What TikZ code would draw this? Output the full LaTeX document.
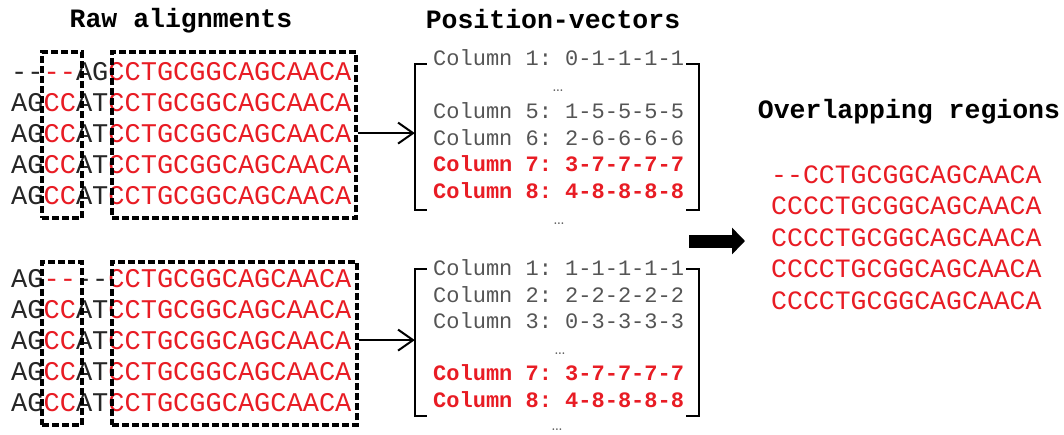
\documentclass[tikz,border=0pt]{standalone}
\usepackage{fontspec}
\setmonofont{Liberation Mono}
\usetikzlibrary{arrows.meta}
\definecolor{seqred}{RGB}{232,28,36}
\definecolor{vecgray}{RGB}{85,85,85}
\newcommand{\rd}[1]{\textcolor{seqred}{#1}}

\begin{document}
\begin{tikzpicture}
        [x=1pt, y=-1pt,
        seq/.style={font=\fontsize{27}{27}\selectfont\ttfamily, inner sep=0, anchor=base west, text=black!85},
        ovl/.style={font=\fontsize{26.5}{26.5}\selectfont\ttfamily, inner sep=0, anchor=base west, text=seqred},
        vec/.style={font=\fontsize{22}{22}\selectfont\ttfamily, inner sep=0, anchor=base west, text=vecgray},
        vecHit/.style={font=\fontsize{22}{22}\selectfont\ttfamily\bfseries, inner sep=0, anchor=base west, text=seqred},
        dots/.style={font=\fontsize{21}{21}\selectfont, inner sep=0, anchor=base, text=vecgray},
        title/.style={font=\fontsize{26.5}{26.5}\selectfont\ttfamily\bfseries, inner sep=0, anchor=base},
        colbox/.style={draw, line width=3.2pt, dash pattern=on 7pt off 3pt, inner sep=0},
        vecbox/.style={inner sep=0},
        brk/.style={line width=2.4pt},
        link/.style={line width=2pt, -{Straight Barb[length=15pt,width=21pt]}},
        merge/.style={line width=13pt, -{Triangle[length=13pt,width=26pt]}}]
        \useasboundingbox (0,0) rectangle (1064,434);

        % headings
        \node[title] (tRaw) at (181,27) {Raw alignments};
        \node[title] (tVec) at (553,28) {Position-vectors};
        \node[title] (tOvl) at (909,118) {Overlapping regions};

        % first alignment
        \node[seq] (a1r1) at (11,80) {--\rd{--}AG\rd{CCTGCGGCAGCAACA}};
        \node[seq] (a1r2) at (11,111) {AG\rd{CC}AT\rd{CCTGCGGCAGCAACA}};
        \node[seq] (a1r3) at (11,142) {AG\rd{CC}AT\rd{CCTGCGGCAGCAACA}};
        \node[seq] (a1r4) at (11,173) {AG\rd{CC}AT\rd{CCTGCGGCAGCAACA}};
        \node[seq] (a1r5) at (11,204) {AG\rd{CC}AT\rd{CCTGCGGCAGCAACA}};
        \node[colbox, minimum width=40pt, minimum height=166pt] (small1) at (62,135) {};
        \node[colbox, minimum width=244pt, minimum height=166pt] (big1) at (234,135) {};

        % second alignment
        \node[seq] (a2r1) at (11,287) {AG\rd{--}--\rd{CCTGCGGCAGCAACA}};
        \node[seq] (a2r2) at (11,318) {AG\rd{CC}AT\rd{CCTGCGGCAGCAACA}};
        \node[seq] (a2r3) at (11,349) {AG\rd{CC}AT\rd{CCTGCGGCAGCAACA}};
        \node[seq] (a2r4) at (11,380) {AG\rd{CC}AT\rd{CCTGCGGCAGCAACA}};
        \node[seq] (a2r5) at (11,411) {AG\rd{CC}AT\rd{CCTGCGGCAGCAACA}};
        \node[colbox, minimum width=40pt, minimum height=163pt] (small2) at (62,343.5) {};
        \node[colbox, minimum width=245pt, minimum height=163pt] (big2) at (234.5,343.5) {};

        % position vectors, first block
        \node[vecbox, minimum width=284pt, minimum height=146pt] (vec1) at (557,137) {};
        \node[vec] (v1c1) at (433,65) {Column 1: 0-1-1-1-1};
        \node[dots] (v1d1) at (558,91) {\ldots};
        \node[vec] (v1c5) at (433,118) {Column 5: 1-5-5-5-5};
        \node[vec] (v1c6) at (433,145) {Column 6: 2-6-6-6-6};
        \node[vecHit] (v1c7) at (433,171) {Column 7: 3-7-7-7-7};
        \node[vecHit] (v1c8) at (433,198) {Column 8: 4-8-8-8-8};
        \node[dots] (v1d2) at (559,224) {\ldots};

        % position vectors, second block
        \node[vecbox, minimum width=284pt, minimum height=147pt] (vec2) at (557,342.5) {};
        \node[vec] (v2c1) at (433,275) {Column 1: 1-1-1-1-1};
        \node[vec] (v2c2) at (433,302) {Column 2: 2-2-2-2-2};
        \node[vec] (v2c3) at (433,328) {Column 3: 0-3-3-3-3};
        \node[dots] (v2d1) at (560,354) {\ldots};
        \node[vecHit] (v2c7) at (433,380) {Column 7: 3-7-7-7-7};
        \node[vecHit] (v2c8) at (433,407) {Column 8: 4-8-8-8-8};
        \node[dots] (v2d2) at (557,430) {\ldots};

        % brackets
        \draw[brk] ([xshift=12pt]vec1.north west) -| (vec1.south west) -- ++(12pt,0);
        \draw[brk] ([xshift=-13pt]vec1.north east) -| (vec1.south east) -- ++(-13pt,0);
        \draw[brk] ([xshift=12pt]vec2.north west) -| (vec2.south west) -- ++(12pt,0);
        \draw[brk] ([xshift=-13pt]vec2.north east) -| (vec2.south east) -- ++(-13pt,0);

        \draw[link] (big1.east |- a1r3) -- (vec1.west |- a1r3);
        \draw[link] (big2.east |- a2r3) -- (vec2.west |- a2r3);

        % overlapping regions
        \coordinate (mergeA) at (689,241);
        \coordinate (mergeB) at (745,241);
        \draw[merge] (mergeA) -- (mergeB);

        \node[ovl] (o1) at (771,183) {--CCTGCGGCAGCAACA};
        \node[ovl] (o2) at (771,214) {CCCCTGCGGCAGCAACA};
        \node[ovl] (o3) at (771,246) {CCCCTGCGGCAGCAACA};
        \node[ovl] (o4) at (771,277) {CCCCTGCGGCAGCAACA};
        \node[ovl] (o5) at (771,309) {CCCCTGCGGCAGCAACA};

    \end{tikzpicture}
\end{document}
